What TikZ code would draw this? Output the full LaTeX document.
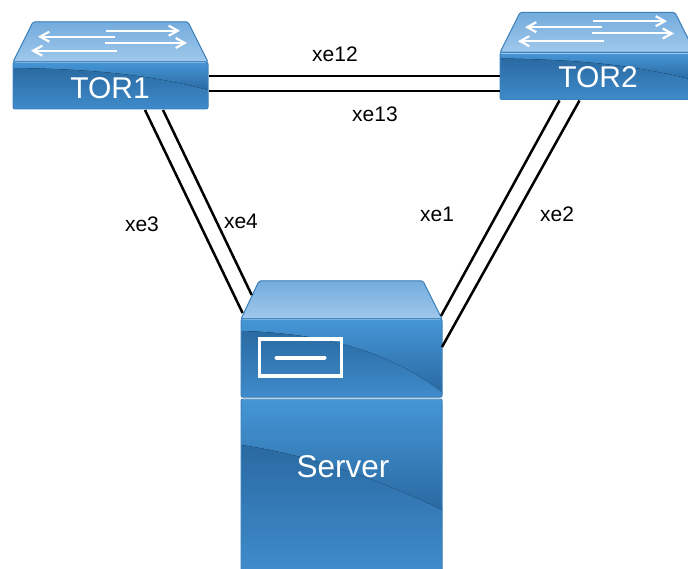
\documentclass[tikz,border=0pt]{standalone}
\usepackage{fontspec}
\setmainfont{Liberation Sans}
\usetikzlibrary{arrows.meta,calc}
\definecolor{edgeblue}{HTML}{3A82BE}
\definecolor{topa}{HTML}{74ACDD}
\definecolor{topb}{HTML}{A0C8EB}
\definecolor{brightblue}{HTML}{4596D6}
\definecolor{deepblue}{HTML}{2A6AA2}
\definecolor{midblue}{HTML}{3F8BCB}
\tikzset{
  x=1pt,y=-1pt,
  devicebox/.style={draw=edgeblue,line width=1pt,rounded corners=2pt,inner sep=0pt},
  topface/.style={draw=edgeblue,line width=1pt,rounded corners=1.5pt,top color=topa,bottom color=topb},
  upperband/.style={top color=brightblue,bottom color=deepblue},
  lowerband/.style={top color=deepblue,bottom color=midblue},
  wire/.style={draw=black,line width=2.5pt},
  portlabel/.style={font=\fontsize{21}{23}\selectfont,text=black,inner sep=0pt},
  devicelabel/.style={text=white,inner sep=0pt},
  flowarrow/.style={draw=white,line width=2pt,-{Straight Barb[length=9pt,width=10pt,line width=2.2pt]}},
  iconline/.style={draw=white,line width=4pt},
}
\newcommand{\switchbody}[2]{%
 \begin{scope}[shift={(#1,#2)}]
  \fill[topface] (20,0) -- (175,0) -- (195,40) -- (0,40) -- cycle;
  \draw[flowarrow] (93,8.7) -- (167,8.7);
  \draw[flowarrow] (102,14.7) -- (25,14.7);
  \draw[flowarrow] (92,21) -- (174,21);
  \draw[flowarrow] (104,28.7) -- (18,28.7);
  \begin{scope}
   \path[clip,rounded corners=2pt] (0,40) rectangle (195,87);
   \fill[upperband] (0,40) rectangle (195,68);
   \fill[lowerband] (0,46) .. controls (70,47) and (130,51) .. (195,68) -- (195,87) -- (0,87) -- cycle;
  \end{scope}
  \draw[white,opacity=.5,line width=1pt] (1,40.8) -- (194,40.8);
 \end{scope}}
\begin{document}
\begin{tikzpicture}
\useasboundingbox (0,0) rectangle (688,569);
\clip (0,0) rectangle (688,569);
\fill[white] (0,0) rectangle (688,569);
\switchbody{13}{22}
\switchbody{500}{12.5}
% server
\fill[topface] (259,281) -- (423,281) -- (442,319) -- (241,319) -- cycle;
\begin{scope}
 \path[clip] (241,319) rectangle (442,397);
 \fill[upperband] (241,319) rectangle (442,392);
 \fill[lowerband] (241,331) .. controls (310,333) and (380,345) .. (442,392) -- (442,397) -- (241,397) -- cycle;
\end{scope}
\begin{scope}
 \path[clip] (241,399) rectangle (442,569);
 \fill[upperband] (241,399) rectangle (442,510);
 \fill[lowerband] (241,445) .. controls (310,455) and (380,480) .. (442,510) -- (442,569) -- (241,569) -- cycle;
\end{scope}
\draw[white,opacity=.5,line width=1pt] (242,319.8) -- (441,319.8);
\draw[white,opacity=.5,line width=1pt] (242,399.8) -- (441,399.8);
\node[devicebox,minimum width=195pt,minimum height=47pt] (tor1) at (110.5,85.5) {};
\node[devicebox,minimum width=195pt,minimum height=47pt] (tor2) at (597.5,76) {};
\node[devicebox,minimum width=201pt,minimum height=78pt] (serverhead) at (341.5,358) {};
\node[devicebox,minimum width=201pt,minimum height=190pt] (serverbody) at (341.5,494) {};
\node[devicelabel,font=\fontsize{30}{32}\selectfont] (tor1text) at (110,88) {TOR1};
\node[devicelabel,font=\fontsize{30}{32}\selectfont] (tor2text) at (598,77) {TOR2};
\node[devicelabel,font=\fontsize{31.5}{34}\selectfont] (servertext) at (343,467) {Server};
\node[draw=white,line width=3.5pt,minimum width=82pt,minimum height=37pt,inner sep=0pt] (panel) at (300.5,357.5) {};
\draw[iconline,line cap=round] ($(panel.center)+(-24,0)$) -- ($(panel.center)+(24,0)$);
% ports
\coordinate (p12a) at ($(tor1.east)+(0,-9.5)$);
\coordinate (p13a) at ($(tor1.east)+(0,5.5)$);
\coordinate (p12b) at ($(tor2.west)+(0,0)$);
\coordinate (p13b) at ($(tor2.west)+(0,15)$);
\coordinate (p3a) at ($(tor1.south)+(34.5,0.5)$);
\coordinate (p4a) at ($(tor1.south)+(52.5,0.5)$);
\coordinate (p3b) at (242.6,313);
\coordinate (p4b) at (251.7,295);
\coordinate (p1a) at ($(tor2.south)+(-38,0.5)$);
\coordinate (p2a) at ($(tor2.south)+(-18,0.5)$);
\coordinate (p1b) at (441,316);
\coordinate (p2b) at (442,347);
\draw[wire] (p12a) -- (p12b);
\draw[wire] (p13a) -- (p13b);
\draw[wire] (p3a) -- (p3b);
\draw[wire] (p4a) -- (p4b);
\draw[wire] (p1a) -- (p1b);
\draw[wire] (p2a) -- (p2b);
\node[portlabel] (xe12) at (335,54) {xe12};
\node[portlabel] (xe13) at (375,114) {xe13};
\node[portlabel] (xe3) at (142,224) {xe3};
\node[portlabel] (xe4) at (241,221) {xe4};
\node[portlabel] (xe1) at (437,214) {xe1};
\node[portlabel] (xe2) at (557,214) {xe2};
\end{tikzpicture}
\end{document}
